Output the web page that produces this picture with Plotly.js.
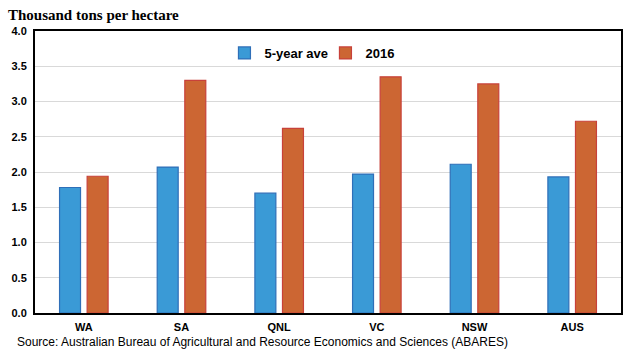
<!DOCTYPE html>
<html>
<head>
<meta charset="utf-8">
<script src="https://cdn.plot.ly/plotly-3.0.1.min.js"></script>
<style>html,body{margin:0;padding:0;background:#fff;}#chart{width:624px;height:361px;}</style>
</head>
<body>
<div id="chart"></div>
<script>
var regions = ["WA", "SA", "QNL", "VC", "NSW", "AUS"];
var fiveYearAve = [1.78, 2.07, 1.70, 1.97, 2.11, 1.93];
var year2016 = [1.94, 3.30, 2.62, 3.35, 3.25, 2.72];
var yTicks = [0, 0.5, 1, 1.5, 2, 2.5, 3, 3.5, 4];

var traces = [
  {type: "bar", name: "5-year ave", x: regions, y: fiveYearAve,
   marker: {color: "#3A9AD6", line: {color: "#2F6FB8", width: 1.2}}},
  {type: "bar", name: "2016", x: regions, y: year2016,
   marker: {color: "#CC6633", line: {color: "#C8413A", width: 1.2}}}
];

var layout = {
  width: 624, height: 361,
  margin: {l: 35, r: 3, t: 31, b: 48},
  paper_bgcolor: "#fff", plot_bgcolor: "#fff",
  barmode: "group", bargap: 0.435, bargroupgap: 0.24,
  showlegend: true,
  legend: {orientation: "h", x: 0.3233, y: 0.922, xanchor: "left", yanchor: "middle",
           font: {family: "Liberation Sans, Arial, sans-serif", size: 13, color: "#000", weight: "bold"},
           bgcolor: "rgba(0,0,0,0)", itemwidth: 30, entrywidth: 56, traceorder: "normal"},
  title: {text: "<b>Thousand tons per hectare</b>", xref: "container", yref: "container",
          x: 8/624, xanchor: "left", y: 1 - 15/361, yanchor: "middle",
          font: {family: "Liberation Serif, Times New Roman, serif", size: 15, color: "#000"}},
  xaxis: {showline: true, linecolor: "#000", linewidth: 2, mirror: true, ticks: "",
          showgrid: false, zeroline: false, ticklabelstandoff: 3,
          tickfont: {family: "Liberation Sans, Arial, sans-serif", size: 11, color: "#000", weight: "bold"}},
  yaxis: {range: [0, 4], tickvals: yTicks, tickformat: ".1f", showline: true, linecolor: "#000",
          linewidth: 2, mirror: true, ticks: "", showgrid: true, gridcolor: "#D9D9D9", gridwidth: 1,
          zeroline: false, ticklabelstandoff: 4,
          tickfont: {family: "Liberation Sans, Arial, sans-serif", size: 11, color: "#000", weight: "bold"}},
  annotations: [{
    text: "Source: Australian Bureau of Agricultural and Resource Economics and Sciences (ABARES)",
    xref: "paper", yref: "paper", x: (15 - 35) / 586, y: (313 - 342) / 282,
    xanchor: "left", yanchor: "middle", showarrow: false,
    font: {family: "Liberation Sans, Arial, sans-serif", size: 12, color: "#000"}
  }]
};

Plotly.newPlot("chart", traces, layout, {displayModeBar: false, staticPlot: true});
</script>
</body>
</html>
